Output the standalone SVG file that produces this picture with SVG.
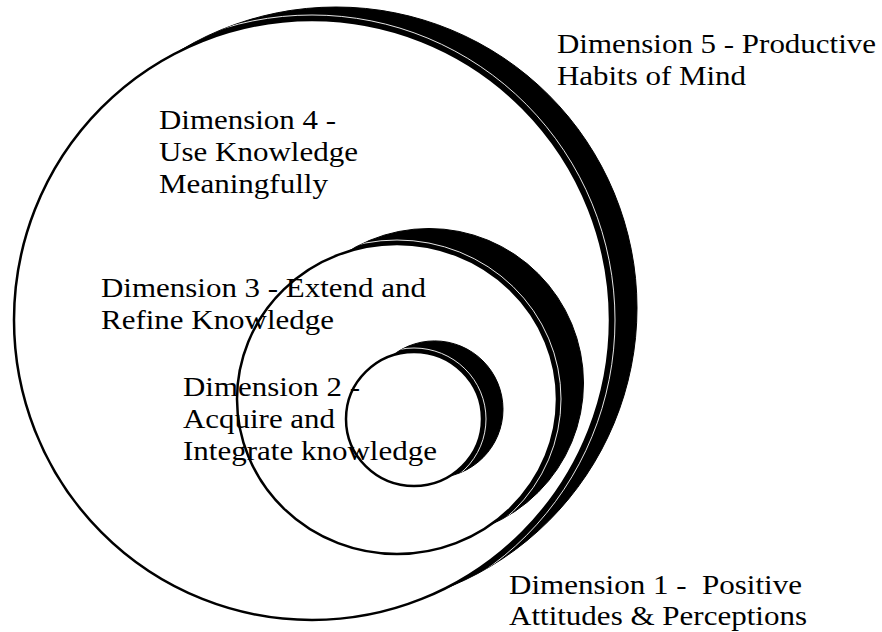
<svg xmlns="http://www.w3.org/2000/svg" width="882" height="632" viewBox="0 0 882 632">
  <style>
    .shade { fill: #000; stroke: #000; stroke-width: 1; }
    .disc { fill: #fff; stroke: #000; stroke-width: 2.5; }
    .glint { fill: none; stroke: #fff; stroke-width: 0.9; }
    .lbl { font-family: "Liberation Serif", "Times New Roman", serif; font-size: 28px; fill: #000; white-space: pre; }
  </style>
  <defs>
    <clipPath id="clipOuter"><circle cx="336" cy="308" r="301"/></clipPath>
    <clipPath id="clipMid"><circle cx="429" cy="383" r="154.5"/></clipPath>
    <clipPath id="clipSmall"><circle cx="434.6" cy="409.3" r="68.4"/></clipPath>
  </defs>
  <rect width="882" height="632" fill="#fff"/>

  <g id="dim5">
    <circle class="shade" cx="336" cy="308" r="301"/>
    <ellipse class="glint" cx="312" cy="320" rx="303" ry="305" clip-path="url(#clipOuter)"/>
    <text class="lbl" x="557" y="53" textLength="319" lengthAdjust="spacingAndGlyphs">Dimension 5 - Productive</text>
    <text class="lbl" x="557" y="85" textLength="189" lengthAdjust="spacingAndGlyphs">Habits of Mind</text>
  </g>

  <g id="dim4">
    <ellipse class="disc" cx="312" cy="320" rx="298" ry="300"/>
    <text class="lbl" x="159" y="129" textLength="177" lengthAdjust="spacingAndGlyphs">Dimension 4 -</text>
    <text class="lbl" x="159" y="161" textLength="199" lengthAdjust="spacingAndGlyphs">Use Knowledge</text>
    <text class="lbl" x="159" y="193" textLength="169" lengthAdjust="spacingAndGlyphs">Meaningfully</text>
  </g>

  <g id="dim3">
    <circle class="shade" cx="429" cy="383" r="154.5"/>
    <ellipse class="glint" cx="397" cy="399" rx="164" ry="159" clip-path="url(#clipMid)"/>
    <ellipse class="disc" cx="397" cy="399" rx="160" ry="155"/>
    <text class="lbl" x="101" y="297" textLength="325" lengthAdjust="spacingAndGlyphs">Dimension 3 - Extend and</text>
    <text class="lbl" x="101" y="329" textLength="233" lengthAdjust="spacingAndGlyphs">Refine Knowledge</text>
  </g>

  <g id="dim2">
    <circle class="shade" cx="434.6" cy="409.3" r="68.4"/>
    <ellipse class="glint" cx="414" cy="419" rx="72" ry="71" clip-path="url(#clipSmall)"/>
    <ellipse class="disc" cx="414" cy="419" rx="68" ry="67"/>
    <text class="lbl" x="183" y="396" textLength="177" lengthAdjust="spacingAndGlyphs">Dimension 2 -</text>
    <text class="lbl" x="183" y="428" textLength="152" lengthAdjust="spacingAndGlyphs">Acquire and</text>
    <text class="lbl" x="183" y="460" textLength="254" lengthAdjust="spacingAndGlyphs">Integrate knowledge</text>
  </g>

  <g id="dim1">
    <text class="lbl" x="509" y="594" textLength="293" lengthAdjust="spacingAndGlyphs">Dimension 1 -  Positive</text>
    <text class="lbl" x="509" y="625" textLength="298" lengthAdjust="spacingAndGlyphs">Attitudes &amp; Perceptions</text>
  </g>

  <g id="connectors"/>
</svg>
